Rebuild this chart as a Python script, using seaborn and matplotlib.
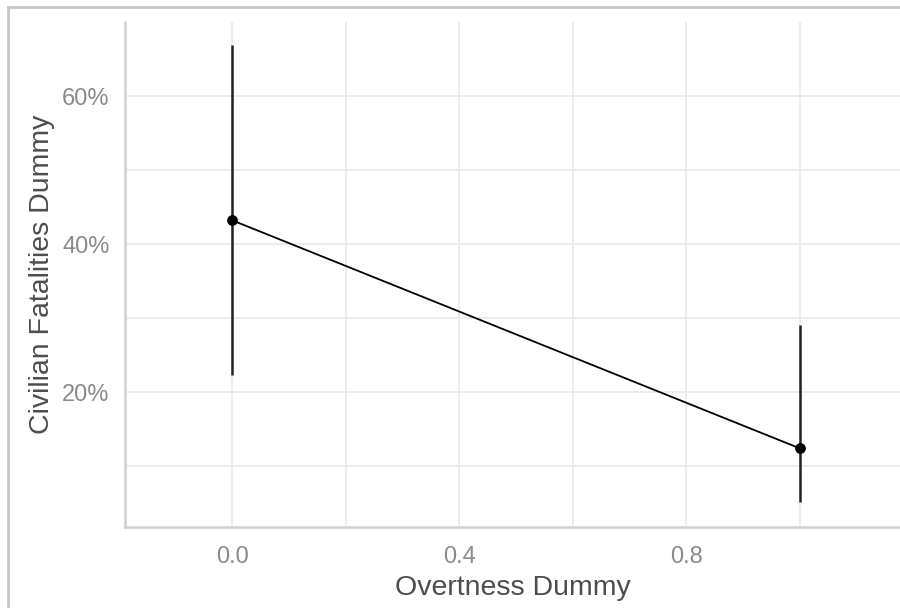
import numpy as np
import pandas as pd
import matplotlib
matplotlib.use('Agg')
import matplotlib.pyplot as plt
import seaborn as sns
from matplotlib.ticker import FuncFormatter

# predicted probabilities with confidence intervals
overtness = [0.0, 1.0]
fatalities = [0.432, 0.124]
ci_low = [0.223, 0.051]
ci_high = [0.669, 0.290]

x_ticks = [0.0, 0.4, 0.8]
y_ticks = [0.2, 0.4, 0.6]

df = pd.DataFrame({'overtness': overtness, 'fatalities': fatalities,
                   'low': ci_low, 'high': ci_high})

sns.set_theme(style='white')
plt.rcParams['font.family'] = ['Liberation Sans', 'DejaVu Sans']

fig = plt.figure(figsize=(9, 6.08), dpi=100)
ax = fig.add_axes([125 / 900, 81 / 608, 775 / 900, 505 / 608])

# grid (major + minor look the same)
for xv in np.arange(0.0, 1.01, 0.2):
    ax.axvline(xv, color='#ebebeb', lw=1.3, zorder=0)
for yv in np.arange(0.1, 0.61, 0.1):
    ax.axhline(yv, color='#ebebeb', lw=1.3, zorder=0)

ax.vlines(df['overtness'], df['low'], df['high'], color='#222222', lw=1.8, zorder=2)
sns.lineplot(data=df, x='overtness', y='fatalities', color='black', lw=1.3,
             ax=ax, zorder=3)
sns.scatterplot(data=df, x='overtness', y='fatalities', color='black', s=60,
                edgecolor='black', linewidth=0, ax=ax, zorder=4)

ax.set_xlim(-0.189, 1.177)
ax.set_ylim(0.0176, 0.70)
ax.set_xticks(x_ticks)
ax.set_yticks(y_ticks)
ax.xaxis.set_major_formatter(FuncFormatter(lambda v, p: f'{v:.1f}'))
ax.yaxis.set_major_formatter(FuncFormatter(lambda v, p: f'{v * 100:.0f}%'))
ax.tick_params(axis='both', length=0, labelsize=17, labelcolor='#8a8a8a')
ax.tick_params(axis='x', pad=14)
ax.tick_params(axis='y', pad=11)

ax.set_xlabel('Overtness Dummy', fontsize=20.5, color='#4d4d4d', labelpad=5)
ax.set_ylabel('Civilian Fatalities Dummy', fontsize=20.5, color='#4d4d4d', labelpad=5)

for side in ['top', 'right']:
    ax.spines[side].set_visible(False)
for side in ['left', 'bottom']:
    ax.spines[side].set_color('#d0d0d0')
    ax.spines[side].set_linewidth(1.8)

# frame around the image (left and top edges visible)
fig.add_artist(plt.Line2D([8 / 900, 8 / 900], [0, 1 - 7 / 608],
                          transform=fig.transFigure, color='#c4c4c4', lw=2))
fig.add_artist(plt.Line2D([8 / 900, 1], [1 - 7 / 608, 1 - 7 / 608],
                          transform=fig.transFigure, color='#c4c4c4', lw=2))

fig.savefig('out.png', dpi=100)
